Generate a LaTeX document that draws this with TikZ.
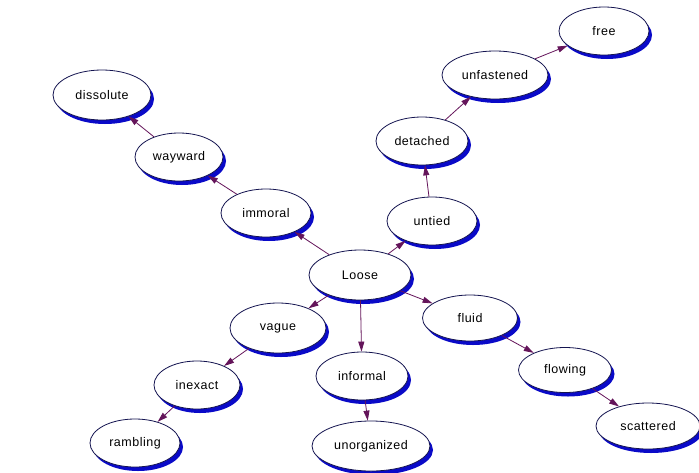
\documentclass[tikz,border=0pt]{standalone}
\usepackage{fontspec}
\setmainfont{Liberation Sans}[LetterSpace=4]
\usetikzlibrary{shapes.geometric,arrows.meta,shadows}
\definecolor{shadowblue}{RGB}{10,10,200}
\definecolor{rimnavy}{RGB}{20,20,80}
\definecolor{linkpurple}{RGB}{100,20,90}
\begin{document}
\begin{tikzpicture}[x=1pt,y=-1pt,
  word/.style={ellipse, draw=rimnavy, line width=0.8pt, fill=white, inner sep=0pt,
    minimum width=#1, minimum height=48pt,
    font=\fontsize{12.5}{14}\selectfont,
    drop shadow={shadow xshift=3pt, shadow yshift=-4pt, fill=shadowblue, opacity=1}},
  word/.default=92pt,
  link/.style={draw=linkpurple, line width=0.8pt,
    -{Triangle[length=10pt,width=6pt]}, shorten >=0pt}
]
\useasboundingbox (0,0) rectangle (699,472);
\fill[white] (0,0) rectangle (699,472);

\node[word=98pt, minimum height=50pt] (dissolute) at (102,95) {dissolute};
\node[word=88pt] (wayward) at (179,157) {wayward};
\node[word=90pt] (immoral) at (266,213) {immoral};
\node[word=102pt, minimum height=50pt] (loose) at (360,275) {Loose};
\node[word=90pt] (untied) at (432,221) {untied};
\node[word=92pt] (detached) at (422,141) {detached};
\node[word=106pt] (unfastened) at (495,75) {unfastened};
\node[word=90pt] (free) at (604,31) {free};
\node[word=96pt, minimum height=50pt] (vague) at (278,328) {vague};
\node[word=86pt] (inexact) at (197,385) {inexact};
\node[word=90pt] (rambling) at (135,443) {rambling};
\node[word=92pt] (informal) at (362,376) {informal};
\node[word=118pt, minimum height=50pt] (unorganized) at (371,446) {unorganized};
\node[word=95pt, minimum height=46pt] (fluid) at (470,318) {fluid};
\node[word=93pt, minimum height=45pt] (flowing) at (565,370) {flowing};
\node[word=104pt, minimum height=46pt] (scattered) at (648,426) {scattered};

\draw[link] (loose) -- (immoral);
\draw[link] (immoral) -- (wayward);
\draw[link] (wayward) -- (dissolute);
\draw[link] (loose) -- (untied);
\draw[link] (untied) -- (detached);
\draw[link] (detached) -- (unfastened);
\draw[link] (unfastened) -- (free);
\draw[link] (loose) -- (vague);
\draw[link] (vague) -- (inexact);
\draw[link] (inexact) -- (rambling);
\draw[link] (loose) -- (informal);
\draw[link] (informal) -- (unorganized);
\draw[link] (loose) -- (fluid);
\draw[link] (fluid) -- (flowing);
\draw[link] (flowing) -- (scattered);
\end{tikzpicture}
\end{document}
